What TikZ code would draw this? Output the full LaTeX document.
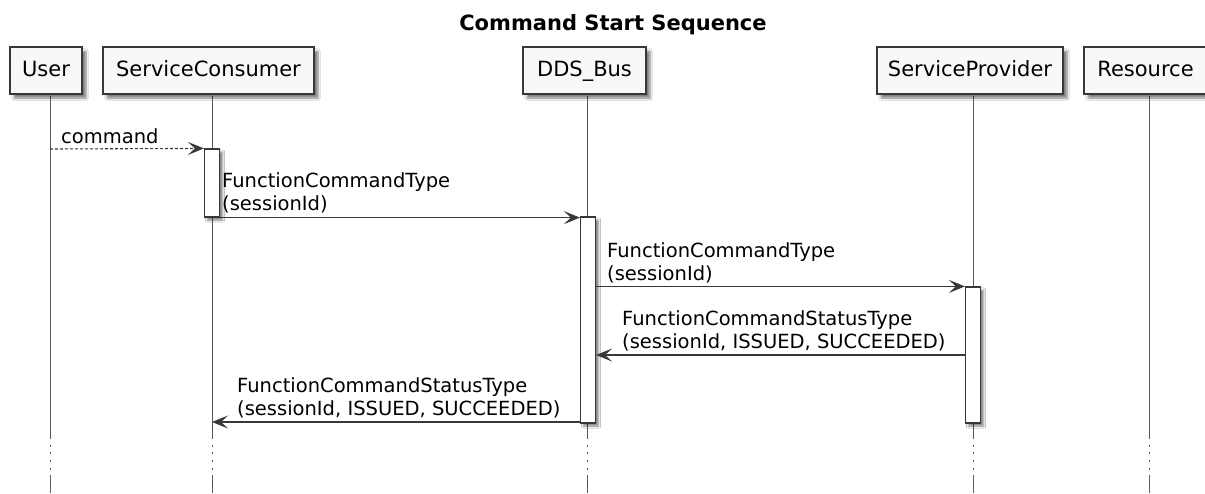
\documentclass[tikz,border=0pt]{standalone}
\usepackage{fontspec}
\setmainfont{DejaVu Sans}
\usetikzlibrary{arrows.meta,shadows.blur}
\definecolor{edge}{HTML}{383838}
\definecolor{lifegray}{HTML}{5A5A5A}
\definecolor{boxfill}{HTML}{F8F8F8}
\tikzset{
  pbox/.style={draw=edge, line width=1.5pt, fill=boxfill, minimum height=47pt,
    inner sep=0pt, font=\fontsize{21}{24}\selectfont, text height=15.5pt, text depth=4.5pt,
    blur shadow={shadow xshift=4pt, shadow yshift=-4pt, shadow blur steps=6, shadow opacity=50}},
  actbox/.style={draw=edge, line width=1.2pt, fill=white, minimum width=15pt, inner sep=0pt,
    blur shadow={shadow xshift=3pt, shadow yshift=-3pt, shadow blur steps=4, shadow opacity=50}},
  life/.style={draw=lifegray, line width=1pt},
  lifedots/.style={draw=lifegray, line width=1pt, dash pattern=on 2pt off 5.7pt},
  msg/.style={draw=edge, line width=1.1pt, -{Stealth[length=16pt, width=13pt, inset=7pt]}},
  msgdash/.style={msg, dash pattern=on 3pt off 2pt},
  lbl/.style={inner sep=0pt, align=left, font=\fontsize{19.5}{22.5}\selectfont},
}
\begin{document}
\begin{tikzpicture}[x=1pt, y=-1pt]
\useasboundingbox (0,0) rectangle (1205,493);
\fill[white] (0,0) rectangle (1205,493);

% title
\node[font=\bfseries\fontsize{21}{24}\selectfont] (title) at (613,25) {Command Start Sequence};

% lifelines (drawn under the participant boxes)
\foreach \n/\x in {u/50, sc/212, dds/587, sp/973, res/1149} {
  \coordinate (\n top) at (\x,96);
  \coordinate (\n cut) at (\x,437);
  \coordinate (\n resume) at (\x,475);
  \coordinate (\n end) at (\x,493);
  \draw[life] (\n top) -- (\n cut);
  \draw[lifedots] (\n cut) -- (\n resume);
  \draw[life] (\n resume) -- (\n end);
}

% participants
\node[pbox, minimum width=72pt]  (user) at (46,70.5)    {User};
\node[pbox, minimum width=211pt] (consumer) at (208.5,70.5) {ServiceConsumer};
\node[pbox, minimum width=123pt] (bus) at (584.5,70.5)  {DDS\_Bus};
\node[pbox, minimum width=186pt] (provider) at (970,70.5) {ServiceProvider};
\node[pbox, minimum width=123pt] (resource) at (1145.5,70.5) {Resource};

% activation bars
\node[actbox, minimum height=68pt]  (act1) at (212,183) {};
\node[actbox, minimum height=206pt] (act2) at (588,320) {};
\node[actbox, minimum height=136pt] (act3) at (973,355) {};

% messages
\coordinate (userm) at (50,149);
\draw[msgdash] (userm) -- (act1.north west);
\node[lbl, anchor=base west] (lcmd) at (61,143) {command};

\draw[msg] (act1.south east) -- (act1.south east -| act2.west);
\node[lbl, anchor=south west] (l1) at (222,213) {FunctionCommandType\\(sessionId)};

\draw[msg] (act3.north west -| act2.east) -- (act3.north west);
\node[lbl, anchor=south west] (l2) at (607,283) {FunctionCommandType\\(sessionId)};

\coordinate (ret1) at (965,355);
\draw[msg] (ret1) -- (ret1 -| act2.east);
\node[lbl, anchor=south west] (l3) at (622,351) {FunctionCommandStatusType\\(sessionId, ISSUED, SUCCEEDED)};

\coordinate (ret2) at (580,422);
\coordinate (consumerline) at (212,422);
\draw[msg] (ret2) -- (consumerline);
\node[lbl, anchor=south west] (l4) at (237,418) {FunctionCommandStatusType\\(sessionId, ISSUED, SUCCEEDED)};
\end{tikzpicture}
\end{document}
